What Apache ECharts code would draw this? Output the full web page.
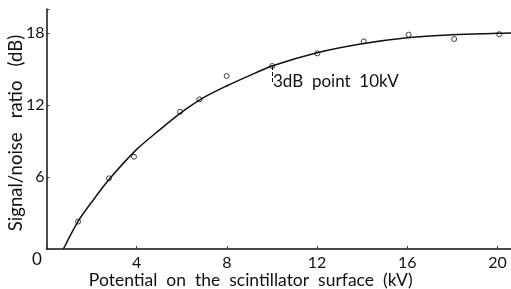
<!DOCTYPE html>
<html><head><meta charset="utf-8">
<script src="https://cdn.jsdelivr.net/npm/echarts@6/dist/echarts.min.js"></script>
<style>html,body{margin:0;padding:0;background:#fff}#c{width:511px;height:289px}</style>
</head><body><div id="c"></div>
<script>
// measured points (kV, dB)
const pointX = [1.4, 2.77, 3.88, 5.92, 6.78, 7.99, 10.01, 12.01, 14.07, 16.06, 18.08, 20.08];
const pointY = [2.28, 5.89, 7.69, 11.44, 12.47, 14.42, 15.25, 16.3, 17.3, 17.86, 17.5, 17.9];
// fitted curve
const curveX = [0.75, 1.4, 2.0, 2.8, 4.0, 5.0, 6.0, 7.0, 8.0, 9.0, 10.0, 12.0, 14.0, 16.0, 18.0, 20.0, 20.6];
const curveY = [0, 2.3, 3.9, 5.85, 8.3, 9.9, 11.4, 12.65, 13.6, 14.45, 15.25, 16.35, 17.1, 17.6, 17.85, 17.97, 18.0];
const xTicks = [4, 8, 12, 16, 20];
const yTicks = [6, 12, 18];
const annotation = '3dB  point  10kV';
const annX = 10, annY = 15.25;

const font = 'Lato';
const chart = echarts.init(document.getElementById('c'), null, {renderer: 'canvas'});
chart.setOption({
  animation: false,
  backgroundColor: '#fff',
  grid: {left: 46.5, right: 0, top: 9, bottom: 40, containLabel: false, outerBoundsMode: 'none'},
  xAxis: {
    type: 'value', min: 0, max: 20.6, interval: 4,
    name: 'Potential  on  the  scintillator  surface  (kV)',
    nameLocation: 'middle', nameGap: 22, nameMoveOverlap: false,
    nameTextStyle: {fontFamily: font, fontSize: 17.5, color: '#111', verticalAlign: 'top', padding: [0, 56, 0, 0]},
    axisLine: {lineStyle: {color: '#111', width: 1.5}},
    axisTick: {inside: true, length: 3, lineStyle: {color: '#333'}},
    axisLabel: {fontFamily: font, fontSize: 16, color: '#111', margin: 6,
      formatter: v => xTicks.includes(v) ? String(v) : ''},
    splitLine: {show: false}
  },
  yAxis: {
    type: 'value', min: 0, max: 20, interval: 6,
    name: 'Signal/noise   ratio   (dB)',
    nameLocation: 'middle', nameGap: 21, nameRotate: 90, nameMoveOverlap: false,
    nameTextStyle: {fontFamily: font, fontSize: 18.5, color: '#111', padding: [0, 8, 0, 0]},
    axisLine: {show: true, lineStyle: {color: '#111', width: 1.5}},
    axisTick: {show: true, inside: true, length: 3, lineStyle: {color: '#333'}},
    axisLabel: {fontFamily: font, fontSize: 16, color: '#111', margin: 2,
      formatter: v => yTicks.includes(v) ? String(v) : ''},
    splitLine: {show: false}
  },
  graphic: [{
    type: 'text', left: 32, top: 251,
    style: {text: '0', fontFamily: font, fontSize: 17, fill: '#111'}
  }],
  series: [
    {
      type: 'line', data: curveX.map((x, i) => [x, curveY[i]]),
      smooth: 0.3, showSymbol: false,
      lineStyle: {color: '#111', width: 1.5},
      markLine: {
        silent: true, symbol: 'none', label: {show: false},
        lineStyle: {type: 'dashed', color: '#111', width: 1},
        data: [[{coord: [annX, annY]}, {coord: [annX, annY - 1.4]}]]
      },
      markPoint: {
        symbol: 'circle', symbolSize: 0,
        data: [{coord: [annX, annY - 1.3]}],
        label: {show: true, formatter: annotation, position: 'right', distance: 1,
          fontFamily: font, fontSize: 17, color: '#111'}
      }
    },
    {
      type: 'scatter', data: pointX.map((x, i) => [x, pointY[i]]),
      symbol: 'circle', symbolSize: 5,
      itemStyle: {color: '#fff', borderColor: '#111', borderWidth: 1}
    }
  ]
});
</script></body></html>
